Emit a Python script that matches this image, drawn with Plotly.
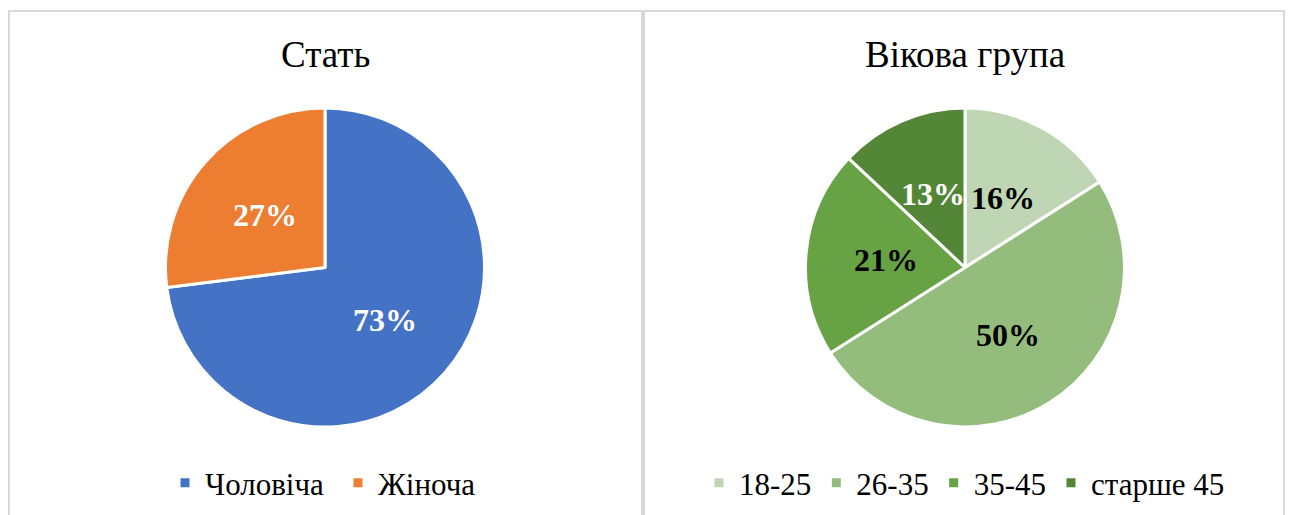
import math
import plotly.graph_objects as go

# ---- data ----
gender_labels = ["Чоловіча", "Жіноча"]
gender_values = [73, 27]
gender_colors = ["#4472C4", "#ED7D31"]
gender_text_colors = ["white", "white"]

age_labels = ["18-25", "26-35", "35-45", "старше 45"]
age_values = [16, 50, 21, 13]
age_colors = ["#BFD6B4", "#94BD7D", "#67A344", "#548637"]
age_text_colors = ["black", "black", "black", "white"]

titles = ["Стать", "Вікова група"]

# ---- layout helpers (page pixel -> paper); page has an 8px body margin ----
OFF = 8
FW, FH = 1285, 507
SERIF = "Liberation Serif, Times New Roman, serif"


def px_x(x):
    return (x - OFF) / FW


def px_y(y):
    return 1 - (y - OFF) / FH


R = 159.5
left_c = (325, 267.5)
right_c = (965, 267.5)


def dom(c):
    return dict(x=[px_x(c[0] - R), px_x(c[0] + R)],
                y=[px_y(c[1] + R), px_y(c[1] - R)])


def pct_labels(values, colors, center, k=0.5, size=32):
    """Percentage labels placed at each slice's mid-angle (clockwise from 12 o'clock)."""
    total = sum(values)
    cum = 0
    out = []
    for v, col in zip(values, colors):
        mid = (cum + v / 2) / total * 2 * math.pi
        cum += v
        x = center[0] + k * R * math.sin(mid)
        y = center[1] - k * R * math.cos(mid)
        out.append(dict(text=f"<b>{round(v / total * 100)}%</b>",
                        x=px_x(x), y=px_y(y), xref="paper", yref="paper",
                        xanchor="center", yanchor="middle", showarrow=False,
                        font=dict(family=SERIF, size=size, color=col)))
    return out


fig = go.Figure()

fig.add_trace(go.Pie(
    labels=gender_labels, values=gender_values, sort=False,
    direction="clockwise", rotation=0, domain=dom(left_c),
    marker=dict(colors=gender_colors, line=dict(color="white", width=3)),
    textinfo="none", hoverinfo="label+percent", legend="legend",
))

fig.add_trace(go.Pie(
    labels=age_labels, values=age_values, sort=False,
    direction="clockwise", rotation=0, domain=dom(right_c),
    marker=dict(colors=age_colors, line=dict(color="white", width=3)),
    textinfo="none", hoverinfo="label+percent", legend="legend2",
))

legend_common = dict(orientation="h", xanchor="left", yanchor="middle",
                     font=dict(family=SERIF, size=31, color="black"),
                     bgcolor="rgba(0,0,0,0)", itemclick=False, itemdoubleclick=False)

annotations = [
    dict(text=titles[0], x=px_x(left_c[0]), y=px_y(54), xref="paper", yref="paper",
         xanchor="center", yanchor="middle", showarrow=False,
         font=dict(family=SERIF, size=37, color="black")),
    dict(text=titles[1], x=px_x(right_c[0]), y=px_y(54), xref="paper", yref="paper",
         xanchor="center", yanchor="middle", showarrow=False,
         font=dict(family=SERIF, size=37, color="black")),
]
annotations += pct_labels(gender_values, gender_text_colors, left_c)
annotations += pct_labels(age_values, age_text_colors, right_c)

fig.update_layout(
    width=FW, height=FH,
    margin=dict(l=0, r=0, t=0, b=0),
    paper_bgcolor="white", plot_bgcolor="white",
    legend=dict(x=px_x(165), y=px_y(483), entrywidthmode="pixels", entrywidth=128,
                **legend_common),
    legend2=dict(x=px_x(699), y=px_y(483), **legend_common),
    annotations=annotations,
    shapes=[
        dict(type="rect", xref="paper", yref="paper",
             x0=px_x(9), x1=px_x(642), y0=px_y(530), y1=px_y(11),
             line=dict(color="#D9D9D9", width=2), layer="below"),
        dict(type="rect", xref="paper", yref="paper",
             x0=px_x(644), x1=px_x(1284), y0=px_y(530), y1=px_y(11),
             line=dict(color="#D9D9D9", width=2), layer="below"),
    ],
)

fig.write_html("out.html")
